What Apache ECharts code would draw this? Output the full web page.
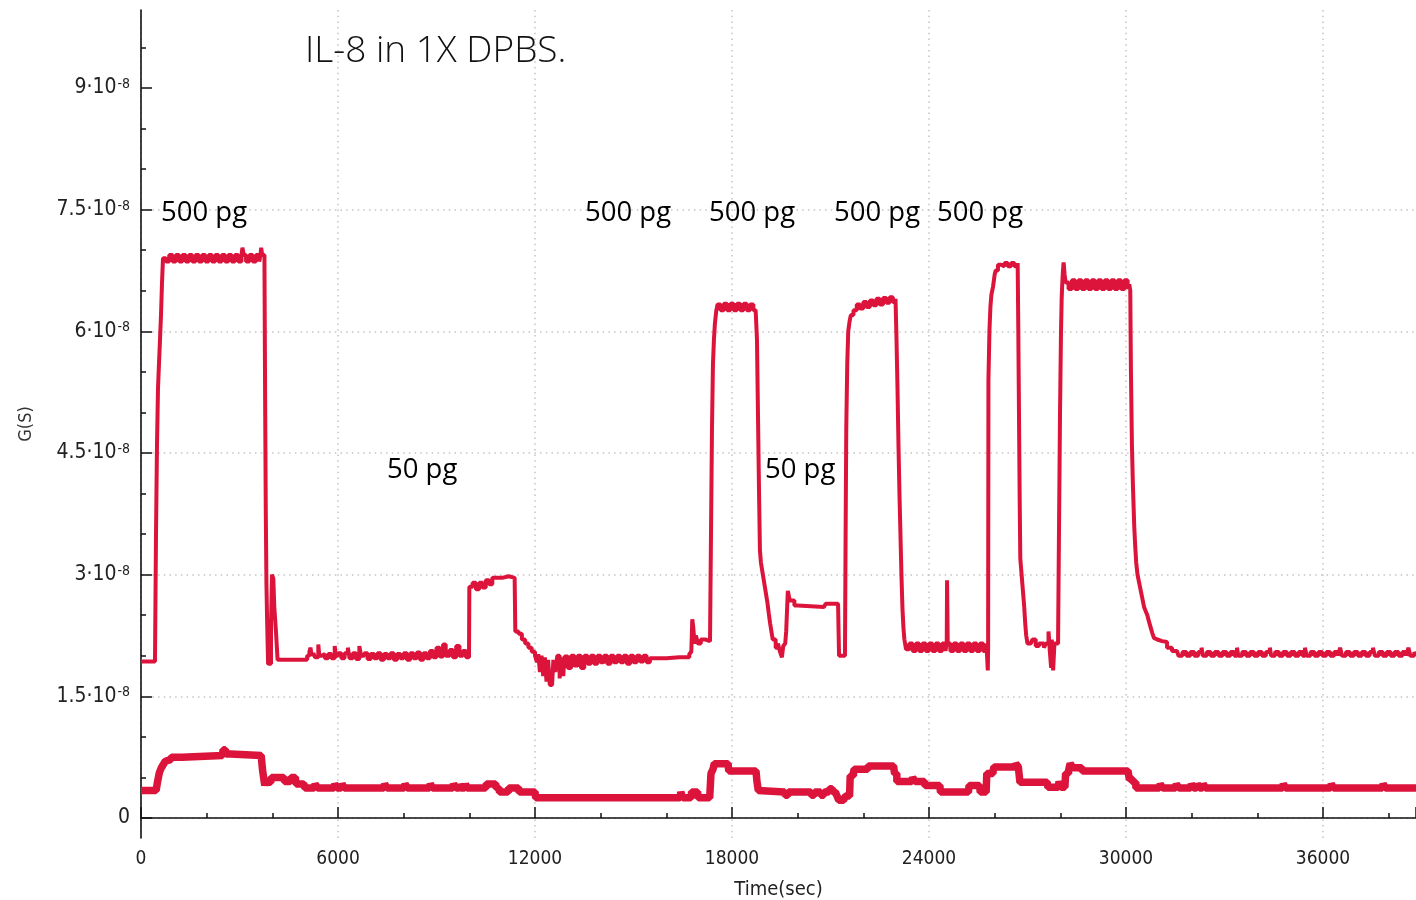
<!DOCTYPE html>
<html>
<head>
<meta charset="utf-8">
<script src="https://cdn.jsdelivr.net/npm/echarts@6/dist/echarts.min.js"></script>
<style>
  html, body { margin: 0; padding: 0; background: #fff; }
  #chart { width: 1416px; height: 900px; }
</style>
</head>
<body>
<div id="chart"></div>
<script>
// Conductance G (in units of 1e-8 S) versus time (s), IL-8 in 1X DPBS.
const titleText = 'IL-8 in 1X DPBS.';
const xAxisName = 'Time(sec)';
const yAxisName = 'G(S)';
const xMax = 38832;
const yMin = -0.2466;
const yMax = 9.96;
const yMajorTicks = [0, 1.5, 3, 4.5, 6, 7.5, 9];
const yMinorTicks = [0.5, 1, 2, 2.5, 3.5, 4, 5, 5.5, 6.5, 7, 8, 8.5, 9.5];
const doseLabels = ['500 pg', '500 pg', '500 pg', '500 pg', '500 pg', '50 pg', '50 pg'];

// upper trace [time, G/1e-8]
const upperTrace = [
  [0,1.93],[426,1.93],[457,3.5],[487,4.6],[518,5.3],[548,5.6],[579,5.9],[609,6.2],[640,6.6],[670,6.9],
  [760,6.86],[860,6.94],[960,6.86],[1060,6.94],[1160,6.86],[1260,6.94],[1360,6.86],[1460,6.94],[1560,6.86],
  [1660,6.94],[1760,6.86],[1860,6.94],[1960,6.86],[2060,6.94],[2160,6.86],[2260,6.94],[2360,6.86],[2460,6.94],
  [2560,6.86],[2660,6.94],[2760,6.86],[2860,6.94],[2960,6.86],[3060,6.94],[3090,7.03],[3130,6.94],[3200,6.86],
  [3300,6.94],[3400,6.86],[3500,6.94],[3600,6.86],[3640,6.94],[3660,7.03],[3690,6.94],[3760,6.88],
  [3780,5.2],[3800,3.8],[3820,2.9],[3840,2.45],[3870,1.9],[3930,1.9],[3960,2.4],[3990,3.0],[4030,2.95],
  [4060,2.6],[4110,2.3],[4160,1.95],[4990,1.95],
  [5060,2.0],[5130,2.05],[5160,2.1],[5200,2.0],[5250,2.03],[5300,1.98],[5400,2.14],[5430,2.0],[5500,2.02],
  [5600,1.97],[5700,2.02],[5800,1.97],[5900,2.12],[5930,2.0],[6000,2.03],[6100,1.97],[6200,2.03],[6300,2.1],
  [6350,1.97],[6450,2.03],[6550,1.96],[6650,2.12],[6700,2.0],[6800,2.03],[6900,1.96],[7000,2.02],[7100,1.97],
  [7200,2.03],[7300,1.95],[7400,2.02],[7500,1.97],[7600,2.03],[7700,1.95],[7800,2.02],[7900,1.97],[8000,2.03],
  [8100,1.95],[8200,2.03],[8300,1.97],[8400,2.04],[8500,1.95],[8600,2.03],[8700,1.97],[8800,2.06],[8900,1.98],
  [9000,2.1],[9100,1.99],[9200,2.14],[9280,2.0],[9400,2.07],[9500,1.98],[9600,2.12],[9700,2.0],[9800,2.06],
  [9900,1.98],[9990,2.03],
  [10000,2.85],[10100,2.9],[10200,2.82],[10300,2.9],[10400,2.84],[10500,2.93],[10600,2.88],[10700,2.96],
  [10800,2.96],[11000,2.98],[11200,2.96],[11380,2.97],
  [11400,2.3],[11500,2.27],[11600,2.2],[11700,2.15],[11800,2.1],[11900,2.05],[12000,2.0],
  [12060,1.92],[12100,2.02],[12150,1.8],[12200,2.0],[12250,1.75],[12300,1.98],[12350,1.68],[12400,1.95],
  [12450,1.64],[12520,1.66],[12560,1.95],[12620,1.8],[12680,2.0],[12750,1.72],[12800,1.98],[12860,1.75],
  [12900,1.99],[13000,1.85],[13100,2.0],[13200,1.88],[13300,2.0],[13400,1.85],[13500,2.0],[13600,1.9],
  [13700,2.0],[13800,1.9],[13900,2.0],[14000,1.92],[14100,2.0],[14200,1.9],[14300,2.0],[14400,1.92],
  [14500,2.0],[14600,1.92],[14700,2.0],[14800,1.9],[14900,2.0],[15000,1.92],[15100,2.0],[15200,1.93],
  [15300,2.0],[15400,1.92],[15500,1.97],[15650,1.97],[16000,1.98],[16400,1.98],[16700,2.02],[16760,2.05],
  [16790,2.45],[16820,2.35],[16860,2.15],[16900,2.25],[16960,2.15],[17050,2.2],[17200,2.18],[17330,2.2],
  [17360,3.5],[17390,4.8],[17420,5.6],[17450,5.9],[17480,6.1],[17520,6.25],
  [17560,6.33],[17650,6.26],[17750,6.34],[17850,6.26],[17950,6.34],
  [18050,6.26],[18150,6.34],[18250,6.26],[18350,6.34],[18450,6.26],[18550,6.33],[18650,6.26],[18720,6.26],
  [18760,5.9],[18790,5.0],[18820,4.1],[18850,3.3],[18880,3.15],[18920,3.05],[18960,2.95],[19000,2.85],
  [19040,2.75],[19080,2.65],[19120,2.52],[19160,2.4],[19200,2.3],[19240,2.2],
  [19330,2.1],[19400,2.15],[19460,2.05],[19520,1.98],[19560,2.12],[19620,2.15],[19650,2.3],
  [19700,2.8],[19760,2.68],[19900,2.62],[20000,2.6],[20800,2.6],[20850,2.64],[21230,2.64],[21260,2.0],
  [21440,2.0],[21460,3.5],[21480,4.8],[21510,5.6],[21540,6.0],[21580,6.12],[21620,6.2],
  [21700,6.26],[21800,6.33],[21900,6.28],[22000,6.36],
  [22100,6.3],[22200,6.38],[22300,6.32],[22400,6.4],[22500,6.33],[22600,6.41],[22700,6.35],[22800,6.42],
  [22900,6.36],[22980,6.4],
  [23010,5.9],[23040,5.3],[23070,4.6],[23100,4.0],[23130,3.5],[23160,3.0],[23190,2.6],[23220,2.35],[23250,2.2],
  [23300,2.08],[23400,2.15],[23500,2.06],[23600,2.15],[23700,2.06],[23800,2.15],[23900,2.06],[24000,2.15],
  [24100,2.06],[24200,2.15],[24300,2.06],[24400,2.15],[24500,2.06],[24540,2.15],[24550,2.93],[24570,2.15],
  [24650,2.06],[24750,2.15],[24850,2.06],[24950,2.15],[25050,2.06],[25150,2.15],[25250,2.06],[25350,2.15],
  [25450,2.06],[25550,2.15],[25650,2.06],[25750,2.15],[25790,1.82],[25800,2.1],
  [25810,5.4],[25840,6.0],[25870,6.3],[25900,6.45],[25950,6.55],[26000,6.7],[26030,6.75],
  [26100,6.82],[26200,6.8],[26300,6.84],[26400,6.8],[26500,6.84],[26600,6.8],[26700,6.84],
  [26720,6.0],[26740,5.0],[26760,4.0],[26780,3.2],[26810,3.05],[26840,2.9],[26870,2.75],[26900,2.6],
  [26930,2.4],[26960,2.25],[27000,2.15],
  [27100,2.15],[27150,2.2],[27250,2.12],[27350,2.15],
  [27500,2.1],[27560,2.15],[27640,2.3],[27680,2.05],[27720,1.85],[27740,2.2],[27780,1.82],[27820,2.15],
  [27931,2.2],[27960,3.6],[27990,5.0],[28020,6.0],[28040,6.4],[28060,6.6],[28080,6.75],[28100,6.85],
  [28130,6.7],[28160,6.6],
  [28250,6.52],[28350,6.63],[28450,6.52],[28550,6.63],[28650,6.52],[28750,6.63],[28850,6.52],[28950,6.63],
  [29050,6.52],[29150,6.63],[29250,6.52],[29350,6.63],[29450,6.52],[29550,6.63],[29650,6.52],[29750,6.63],
  [29850,6.52],[29950,6.63],[30050,6.52],[30100,6.58],
  [30130,6.5],[30150,5.5],[30180,4.6],[30210,4.1],[30250,3.6],[30280,3.35],[30310,3.15],[30350,3.0],
  [30400,2.9],[30450,2.8],[30500,2.7],[30550,2.6],[30600,2.55],[30650,2.5],[30700,2.42],[30750,2.35],
  [30800,2.28],[30850,2.22],[30900,2.2],[30950,2.18],[31100,2.17],[31250,2.1],[31400,2.06],[31550,2.045],
  [31600,2.0],[31720,2.045],[31840,2.0],[31960,2.045],[32080,2.0],[32200,2.045],[32300,2.1],[32340,2.0],
  [32460,2.045],[32580,2.0],[32700,2.045],[32820,2.0],[32940,2.045],[33060,2.0],[33180,2.045],[33300,2.0],
  [33380,2.1],[33420,2.0],[33540,2.045],[33660,2.0],[33780,2.045],[33900,2.0],[34020,2.045],[34140,2.0],
  [34260,2.045],[34380,2.1],[34420,2.0],[34540,2.045],[34660,2.0],[34780,2.045],[34900,2.0],[35020,2.045],
  [35140,2.0],[35260,2.045],[35380,2.0],[35450,2.1],[35500,2.0],[35620,2.045],[35740,2.0],[35860,2.045],
  [35980,2.0],[36100,2.045],[36220,2.0],[36340,2.045],[36460,2.0],[36520,2.1],[36580,2.0],[36700,2.045],
  [36820,2.0],[36940,2.045],[37060,2.0],[37180,2.045],[37300,2.0],[37420,2.045],[37520,2.1],[37580,2.0],
  [37700,2.045],[37820,2.0],[37940,2.045],[38060,2.0],[38180,2.045],[38300,2.0],[38420,2.045],[38540,2.0],
  [38600,2.1],[38660,2.0],[38780,2.045],[38840,2.0]
];

// lower trace [time, G/1e-8]
const lowerTrace = [
  [0,0.34],[460,0.34],[510,0.46],[560,0.56],[620,0.62],[680,0.66],[740,0.7],[800,0.72],[900,0.72],
  [920,0.75],[1250,0.75],[1270,0.77],[2480,0.77],[2500,0.84],[2570,0.84],[2590,0.79],[2720,0.79],
  [2740,0.77],[3660,0.77],[3700,0.6],[3740,0.48],[3770,0.4],[3800,0.47],[3850,0.44],[3950,0.44],
  [3970,0.5],[4350,0.5],[4370,0.45],[4550,0.45],[4570,0.5],[4700,0.5],[4720,0.42],[4960,0.42],
  [4990,0.37],[5280,0.37],[5300,0.42],[5360,0.42],[5380,0.37],[5880,0.37],[5900,0.42],[5950,0.42],
  [5970,0.37],[6100,0.37],[6120,0.42],[6170,0.42],[6190,0.37],[7400,0.37],[7420,0.42],[7470,0.42],
  [7490,0.37],[8020,0.37],[8040,0.42],[8090,0.42],[8110,0.37],[8790,0.37],[8810,0.42],[8860,0.42],
  [8880,0.37],[9500,0.37],[9520,0.42],[9580,0.42],[9600,0.37],[9700,0.42],[9740,0.37],[9860,0.37],
  [9880,0.42],[9930,0.37],[10500,0.37],[10520,0.42],[10800,0.42],[10820,0.37],[10900,0.37],[10920,0.32],
  [11180,0.32],[11200,0.37],[11500,0.37],[11520,0.32],[12000,0.32],[12020,0.25],[16420,0.25],
  [16440,0.32],[16480,0.32],[16500,0.25],[16750,0.25],[16770,0.32],[16950,0.32],[16970,0.25],
  [17320,0.25],[17360,0.55],[17420,0.6],[17460,0.67],[17880,0.67],[17900,0.58],[18730,0.58],
  [18760,0.45],[18800,0.34],[18855,0.32],[19600,0.32],[19620,0.28],[19700,0.28],[19720,0.32],
  [20400,0.32],[20420,0.28],[20500,0.28],[20520,0.32],[20700,0.28],[20800,0.32],[20950,0.32],
  [20970,0.36],[21050,0.36],[21070,0.32],[21150,0.3],[21200,0.27],[21250,0.22],[21400,0.22],
  [21450,0.27],[21580,0.27],[21600,0.52],[21700,0.56],[21720,0.6],[22130,0.6],[22150,0.64],
  [22920,0.64],[22950,0.55],[23020,0.45],[23060,0.45],[23480,0.45],[23500,0.5],[23560,0.5],
  [23580,0.45],[23860,0.45],[23880,0.4],[24330,0.38],[24350,0.32],[25200,0.32],[25220,0.4],
  [25540,0.4],[25560,0.32],[25740,0.3],[25760,0.55],[25950,0.58],[25980,0.63],[26620,0.63],
  [26640,0.67],[26700,0.67],[26720,0.63],[26750,0.63],[26770,0.44],[27600,0.44],[27620,0.38],
  [27940,0.38],[27960,0.45],[28000,0.45],[28020,0.38],[28140,0.38],[28160,0.55],[28250,0.58],
  [28280,0.64],[28300,0.67],[28360,0.67],[28380,0.62],[28650,0.62],[28670,0.58],[30060,0.58],
  [30100,0.48],[30200,0.44],[30300,0.37],[31020,0.37],[31040,0.42],[31100,0.42],[31120,0.37],
  [31510,0.37],[31530,0.42],[31590,0.42],[31610,0.37],[31970,0.37],[31990,0.42],[32040,0.42],
  [32060,0.37],[32150,0.37],[32170,0.42],[32220,0.42],[32240,0.37],[32330,0.37],[32350,0.42],
  [32400,0.42],[32420,0.37],[34770,0.37],[34790,0.42],[34840,0.42],[34860,0.37],[36230,0.37],
  [36250,0.42],[36300,0.42],[36320,0.37],[37810,0.37],[37830,0.42],[37880,0.42],[37900,0.37],
  [38840,0.37]
];

const traceColor = '#dc143c';
const tickFont = 'DejaVu Sans Condensed';
const labelFont = '"Open Sans", "Noto Sans", sans-serif';

const chart = echarts.init(document.getElementById('chart'), null, { renderer: 'canvas' });

// annotation placement (pixel positions, text-left / text-middle)
const doseLabelPos = [
  [161, 213], [585, 213], [709, 213], [834, 213], [937, 213], [387, 470], [765, 470]
];

const gridLine = { show: true, lineStyle: { color: '#c4c4c4', width: 1.5, type: [1.5, 4.2] } };
const axisBlack = { show: true, lineStyle: { color: '#111', width: 1.6 } };

const option = {
  animation: false,
  backgroundColor: '#fff',
  grid: { left: 141, right: 0, top: 10, bottom: 62, containLabel: false, outerBoundsMode: 'none' },
  xAxis: {
    type: 'value',
    min: 0,
    max: xMax,
    interval: 6000,
    name: xAxisName,
    nameLocation: 'middle',
    nameGap: 42,
    nameTextStyle: { fontFamily: tickFont, fontSize: 20, color: '#222' },
    axisLine: axisBlack,
    axisTick: { show: true, inside: true, length: 11, lineStyle: { color: '#111', width: 1.5 } },
    minorTick: { show: true, splitNumber: 3, length: 5, lineStyle: { color: '#111', width: 1.5 } },
    axisLabel: {
      fontFamily: tickFont, fontSize: 19, color: '#222', margin: 12,
      showMaxLabel: false,
      formatter: function (v) { return String(v); }
    },
    splitLine: Object.assign({ showMaxLine: false }, gridLine)
  },
  yAxis: [
    {
      type: 'value',
      min: yMin,
      max: yMax,
      name: yAxisName,
      nameLocation: 'middle',
      nameGap: 106,
      nameTextStyle: { fontFamily: tickFont, fontSize: 18, color: '#333' },
      axisLine: axisBlack,
      axisTick: {
        show: true, inside: true, length: 11, customValues: yMajorTicks,
        lineStyle: { color: '#111', width: 1.5 }
      },
      axisLabel: {
        customValues: yMajorTicks,
        margin: 11,
        formatter: function (v) {
          return v === 0 ? '{n|0}' : '{n|' + v + '·10}{e|-8}';
        },
        rich: {
          n: { fontFamily: tickFont, fontSize: 21, color: '#222' },
          e: { fontFamily: tickFont, fontSize: 14, color: '#222', verticalAlign: 'top', padding: [0, 0, 7, 1] }
        }
      },
      splitLine: Object.assign({ showMinLine: true, showMaxLine: false }, gridLine)
    },
    {
      type: 'value',
      min: yMin,
      max: yMax,
      position: 'left',
      axisLine: { show: false },
      axisLabel: { show: false },
      splitLine: { show: false },
      axisTick: {
        show: true, inside: true, length: 5, customValues: yMinorTicks,
        lineStyle: { color: '#111', width: 1.5 }
      }
    }
  ],
  series: [
    {
      name: 'upper',
      type: 'line',
      data: upperTrace,
      step: 'end',
      showSymbol: false,
      symbol: 'none',
      silent: true,
      lineStyle: { color: traceColor, width: 4, join: 'bevel' },
      z: 3
    },
    {
      name: 'lower',
      type: 'line',
      data: lowerTrace,
      step: 'end',
      showSymbol: false,
      symbol: 'none',
      silent: true,
      lineStyle: { color: traceColor, width: 7.5, join: 'bevel' },
      z: 3
    }
  ],
  graphic: [
    {
      type: 'rect', z: 10,
      shape: { x: 968, y: 82, width: 44, height: 12 },
      style: { fill: '#fff' }
    },
    {
      type: 'text', z: 20, x: 305, y: 51,
      style: {
        text: titleText, fill: '#111', fontFamily: labelFont, fontSize: 37, fontWeight: 300,
        verticalAlign: 'middle'
      }
    }
  ].concat(doseLabels.map(function (t, i) {
    return {
      type: 'text', z: 20, x: doseLabelPos[i][0], y: doseLabelPos[i][1],
      style: {
        text: t, fill: '#000', fontFamily: labelFont, fontSize: 27.5,
        verticalAlign: 'middle'
      }
    };
  }))
};

chart.setOption(option);
</script>
</body>
</html>
